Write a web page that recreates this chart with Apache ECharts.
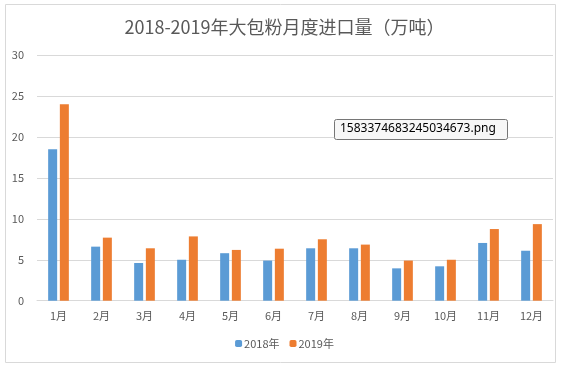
<!DOCTYPE html>
<html><head><meta charset="utf-8">
<script src="https://cdn.jsdelivr.net/npm/echarts@6/dist/echarts.min.js"></script>
<style>html,body{margin:0;padding:0;background:#fff}#c{width:569px;height:369px}</style>
</head><body><div id="c"></div>
<script>
const categories = ['1月','2月','3月','4月','5月','6月','7月','8月','9月','10月','11月','12月'];
const seriesNames = ['2018年','2019年'];
const values2018 = [18.5, 6.6, 4.6, 5.0, 5.8, 4.9, 6.4, 6.4, 3.95, 4.2, 7.05, 6.1];
const values2019 = [24.0, 7.7, 6.4, 7.85, 6.2, 6.35, 7.5, 6.85, 4.9, 5.0, 8.75, 9.35];
const yTicks = [0, 5, 10, 15, 20, 25, 30];
const titleText = '2018-2019年大包粉月度进口量（万吨）';
const overlayText = '1583374683245034673.png';

const chart = echarts.init(document.getElementById('c'), null, {renderer:'canvas'});
const font = '"Noto Sans CJK SC", "Microsoft YaHei", sans-serif';
chart.setOption({
  animation: false,
  textStyle: {fontFamily: font},
  title: {text: titleText, left: 'center', top: 13, textStyle: {fontSize: 18, fontWeight: 'normal', color: '#595959', fontFamily: font}},
  legend: {data: seriesNames, bottom: 15, left: 'center', itemWidth: 7, itemHeight: 7, itemGap: 10,
    textStyle: {fontSize: 11, color: '#595959', padding: [0,0,0,-3]}},
  grid: {left: 37, width: 516, top: 55, bottom: 68.3, containLabel: false},
  xAxis: {type: 'category', data: categories,
    axisLine: {lineStyle: {color: '#d9d9d9'}}, axisTick: {show: false},
    axisLabel: {color: '#595959', fontSize: 11, margin: 10}},
  yAxis: {type: 'value', min: yTicks[0], max: yTicks[yTicks.length-1], interval: 5,
    axisLine: {show: false}, axisTick: {show: false},
    splitLine: {lineStyle: {color: '#d9d9d9'}},
    axisLabel: {color: '#595959', fontSize: 11, margin: 13}},
  series: [
    {name: seriesNames[0], type: 'bar', data: values2018, barWidth: 9, barGap: '30%', itemStyle: {color: '#5B9BD5'}},
    {name: seriesNames[1], type: 'bar', data: values2019, barWidth: 9, itemStyle: {color: '#ED7D31'}}
  ],
  graphic: [
    {type: 'rect', shape: {x: 5.5, y: 4.5, width: 550, height: 358}, style: {fill: 'none', stroke: '#d9d9d9', lineWidth: 1}, silent: true, z: -1},
    {type: 'rect', shape: {x: 334.5, y: 119.5, width: 173, height: 20, r: 2}, style: {fill: '#f7f7f7', stroke: '#767676', lineWidth: 1}, z: 100},
    {type: 'text', left: 340, top: 122.5, style: {text: overlayText, fontSize: 12, fill: '#000', fontFamily: '"Noto Sans", sans-serif'}, z: 101}
  ]
});
</script></body></html>
